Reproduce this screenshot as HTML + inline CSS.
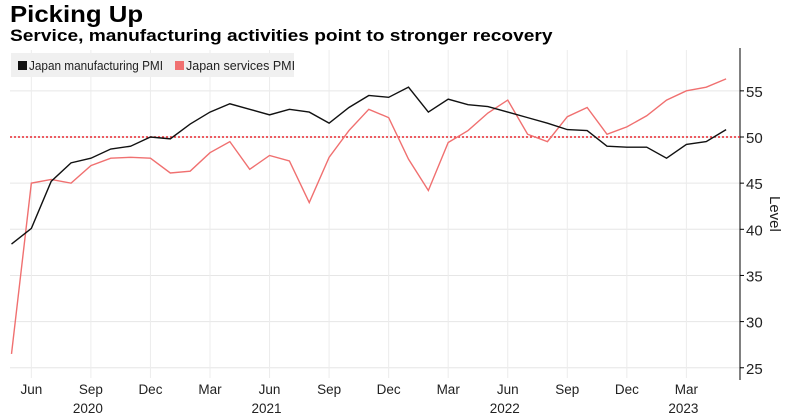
<!DOCTYPE html>
<html><head><meta charset="utf-8"><style>
body{margin:0;background:#fff;width:788px;height:418px;overflow:hidden;font-family:"Liberation Sans",sans-serif}
#title{position:absolute;left:10px;top:1px;font-size:23px;font-weight:bold;color:#000;transform-origin:0 0;transform:scaleX(1.12);white-space:nowrap}
#sub{position:absolute;left:10px;top:27px;font-size:16.5px;font-weight:bold;color:#000;transform-origin:0 0;transform:scaleX(1.16);white-space:nowrap}
svg{position:absolute;left:0;top:0}
</style></head><body>
<div id="title">Picking Up</div>
<div id="sub">Service, manufacturing activities point to stronger recovery</div>
<svg id="c" width="788" height="418"></svg>
<script>
const months=["May20","Jun20","Jul20","Aug20","Sep20","Oct20","Nov20","Dec20","Jan21","Feb21","Mar21","Apr21","May21","Jun21","Jul21","Aug21","Sep21","Oct21","Nov21","Dec21","Jan22","Feb22","Mar22","Apr22","May22","Jun22","Jul22","Aug22","Sep22","Oct22","Nov22","Dec22","Jan23","Feb23","Mar23","Apr23","May23"];
const manufacturing=[38.4,40.1,45.2,47.2,47.7,48.7,49.0,50.0,49.8,51.4,52.7,53.6,53.0,52.4,53.0,52.7,51.5,53.2,54.5,54.3,55.4,52.7,54.1,53.5,53.3,52.7,52.1,51.5,50.8,50.7,49.0,48.9,48.9,47.7,49.2,49.5,50.8];
const services=[26.5,45.0,45.4,45.0,46.9,47.7,47.8,47.7,46.1,46.3,48.3,49.5,46.5,48.0,47.4,42.9,47.8,50.7,53.0,52.1,47.6,44.2,49.4,50.7,52.6,54.0,50.3,49.5,52.2,53.2,50.3,51.1,52.3,54.0,55.0,55.4,56.3];
const yTicks=[25,30,35,40,45,50,55];
const xTickIdx=[1,4,7,10,13,16,19,22,25,28,31,34];
const xTickLabels=["Jun","Sep","Dec","Mar","Jun","Sep","Dec","Mar","Jun","Sep","Dec","Mar"];
const yearIdx=[4,13,25,34];
const yearLabels=["2020","2021","2022","2023"];
const NS="http://www.w3.org/2000/svg",s=document.getElementById('c');
const x=i=>11.5+i*19.85, y=v=>137-(v-50)*9.23;
function el(t,a,txt){const e=document.createElementNS(NS,t);for(const k in a)e.setAttribute(k,a[k]);if(txt!=null)e.textContent=txt;s.appendChild(e);return e;}
yTicks.forEach(v=>{
 const g=el('line',{x1:10,x2:740,y1:y(v),y2:y(v),stroke:'#e6e6e6','stroke-width':1});
 
 
 el('line',{x1:740,x2:744,y1:y(v),y2:y(v),stroke:'#000'});
 const t=el('text',{x:746,y:y(v)+6,'font-size':15,fill:'#222'},v);
 
 
});
xTickIdx.forEach((i,k)=>{
 const g=el('line',{x1:x(i),x2:x(i),y1:50,y2:378,stroke:'#ececec'});
 
 
 const t=el('text',{x:x(i),y:394,'font-size':13.5,fill:'#222','text-anchor':'middle'},xTickLabels[k]);
 
 
});
yearIdx.forEach((i,k)=>{
 const t=el('text',{x:x(i)-3,y:413,'font-size':13.5,fill:'#222','text-anchor':'middle'},yearLabels[k]);
 
 
});
const ax=el('line',{x1:740,x2:740,y1:48,y2:380,stroke:'#000'});


const lv=el('text',{x:0,y:0,'font-size':15,fill:'#222',transform:'translate(770,196) rotate(90)'},'Level');


const ref=el('line',{x1:10,x2:740,y1:y(50),y2:y(50),stroke:'#e8262f','stroke-width':1.5,'stroke-dasharray':'2,2'});


const sp=el('polyline',{points:services.map((v,i)=>x(i)+','+y(v)).join(' '),fill:'none',stroke:'#f07070','stroke-width':1.4});


const mp=el('polyline',{points:manufacturing.map((v,i)=>x(i)+','+y(v)).join(' '),fill:'none',stroke:'#111','stroke-width':1.4});


const lg=el('rect',{x:11,y:53,width:283,height:24,fill:'#f0f0f0'});


el('rect',{x:18,y:61,width:9,height:9,fill:'#111'});
const l1=el('text',{x:29,y:70,'font-size':12.5,fill:'#222',textLength:134,lengthAdjust:'spacingAndGlyphs'},'Japan manufacturing PMI');


el('rect',{x:175,y:61,width:9,height:9,fill:'#f07070'});
const l2=el('text',{x:186,y:70,'font-size':12.5,fill:'#222'},'Japan services PMI');


</script>
</body></html>
